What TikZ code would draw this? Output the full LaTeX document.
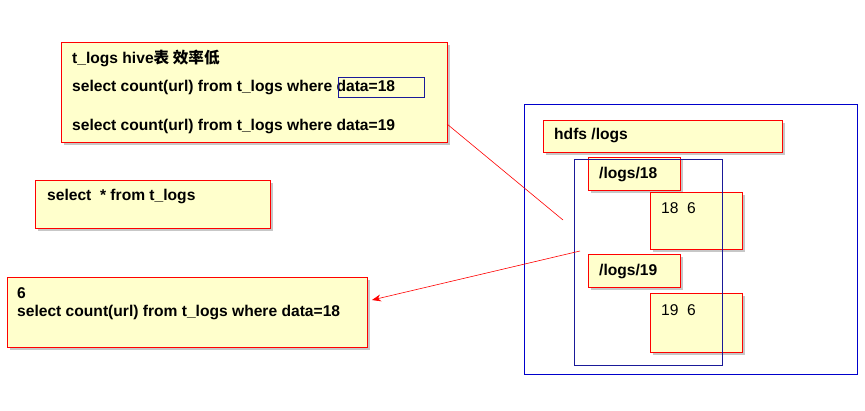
\documentclass[tikz,border=0pt]{standalone}
\usepackage{fontspec}
\setmainfont{Liberation Sans}
\newfontfamily\cjk{Noto Sans CJK SC}
\usetikzlibrary{arrows.meta}
\definecolor{yfill}{HTML}{FFFFCC}
\definecolor{bblue}{HTML}{0000CC}
\definecolor{nblue}{HTML}{1A1A99}
\tikzset{
  ybox/.style={draw=red, line width=0.8pt, fill=yfill, anchor=north west, inner sep=0pt,
    preaction={draw=none, fill=black!22, transform canvas={xshift=3pt,yshift=-3pt}}},
  txt/.style={anchor=west, inner sep=0pt, font=\fontsize{15.6}{18}\selectfont\bfseries},
  rtxt/.style={anchor=west, inner sep=0pt, font=\fontsize{15.6}{19}\selectfont},
  frame/.style={draw=bblue, line width=0.8pt, anchor=north west, inner sep=0pt},
  conn/.style={draw=red, line width=0.6pt},
}
\begin{document}
\begin{tikzpicture}[x=1pt,y=-1pt]
\useasboundingbox (0,0) rectangle (865,410);
% big frame
\node[frame, minimum width=333pt, minimum height=270pt] (big) at (524,104) {};
% top box
\node[ybox, minimum width=386pt, minimum height=100pt] (A) at (61,42) {};
\node[txt] (a1) at (72,58) {t\_logs hive{\cjk 表 效率低}};
\node[txt] (a2) at (72,87) {select count(url) from t\_logs where data=18};
\node[txt] (a3) at (72,126) {select count(url) from t\_logs where data=19};
\node[frame, draw=nblue, minimum width=86pt, minimum height=20pt] (hl) at (338,77) {};
% box B
\node[ybox, minimum width=235pt, minimum height=48pt] (B) at (35,180) {};
\node[txt] (b1) at (47,196) {select\ \ * from t\_logs};
% box C
\node[ybox, minimum width=360pt, minimum height=70pt] (C) at (7,277) {};
\node[txt] (c0) at (17,293) {6};
\node[txt] (c1) at (17,312) {select count(url) from t\_logs where data=18};
% hdfs
\node[ybox, minimum width=239pt, minimum height=32pt] (H) at (543,120) {};
\node[txt] (h1) at (554,135) {hdfs /logs};
% inner frame
\node[frame, draw=nblue, minimum width=148pt, minimum height=206pt] (inner) at (574,159) {};
% logs 18
\node[ybox, minimum width=92pt, minimum height=33pt] (L18) at (588,157) {};
\node[txt] (l18) at (599,174) {/logs/18};
\node[ybox, minimum width=92pt, minimum height=57pt] (D18) at (650,192) {};
\node[rtxt] (d18) at (661,208) {18\ \ 6};
% logs 19
\node[ybox, minimum width=92pt, minimum height=33pt] (L19) at (588,254) {};
\node[txt] (l19) at (599,271) {/logs/19};
\node[ybox, minimum width=92pt, minimum height=59pt] (D19) at (650,293) {};
\node[rtxt] (d19) at (661,310) {19\ \ 6};
% redraw inner frame lines over boxes
\draw[draw=nblue, line width=0.8pt] (inner.north west) rectangle (inner.south east);
% connectors
\coordinate (p1) at (447,124);
\coordinate (p2) at (563,220);
\coordinate (p3) at (580,251);
\coordinate (p4) at (372,300);
\draw[conn] (p1) -- (p2);
\draw[conn, -{Stealth[length=9pt,width=7pt]}] (p3) -- (p4);
\end{tikzpicture}
\end{document}
